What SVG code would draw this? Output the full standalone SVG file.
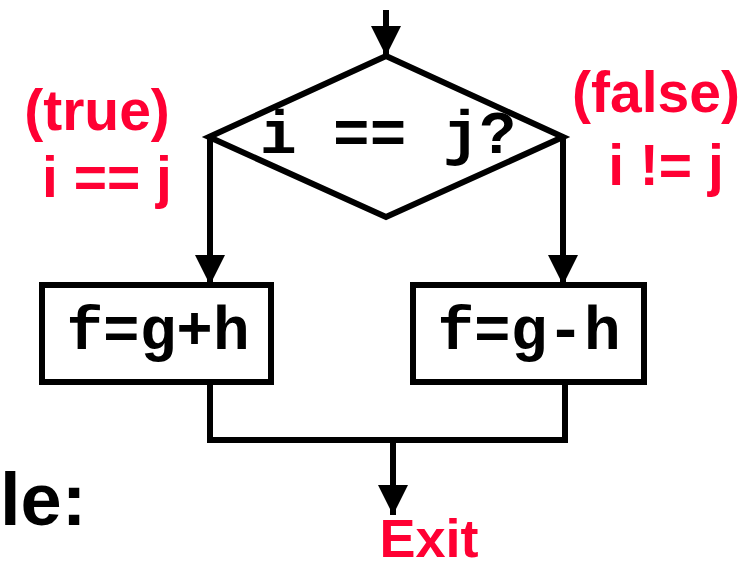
<svg xmlns="http://www.w3.org/2000/svg" width="756" height="570" viewBox="0 0 756 570">
<style>
.ln{stroke:#000;stroke-width:6;fill:none}
.shape{stroke:#000;stroke-width:6;fill:#fff}
.code{font-family:"Liberation Mono","Courier New",monospace;font-weight:bold;fill:#000}
.red{font-family:"Liberation Sans",Arial,sans-serif;font-weight:bold;fill:#FF0033}
</style>
<defs>
<marker id="ah" markerWidth="5" markerHeight="5" refX="5" refY="2.5" orient="auto" markerUnits="strokeWidth">
<path d="M0,0 L5,2.5 L0,5 Z" fill="#000"/>
</marker>
</defs>
<text x="0" y="525" font-family="Liberation Sans,Arial,sans-serif" font-weight="bold" font-size="74">le:</text>
<g id="connectors">
<line class="ln" x1="386" y1="10" x2="386" y2="56" marker-end="url(#ah)"/>
<line class="ln" x1="210" y1="137" x2="210" y2="285" marker-end="url(#ah)"/>
<line class="ln" x1="563" y1="137" x2="563" y2="285" marker-end="url(#ah)"/>
<polyline class="ln" points="210,378 210,440 565,440 565,378"/>
<line class="ln" x1="393" y1="440" x2="393" y2="515" marker-end="url(#ah)"/>
</g>
<g id="decision">
<polygon class="shape" points="386,56 563,137 386,217 209,137"/>
<text class="code" x="388" y="153" font-size="61" text-anchor="middle">i == j?</text>
</g>
<g id="true-label">
<text class="red" x="97" y="130" font-size="57" text-anchor="middle">(true)</text>
<text class="red" x="107" y="197" font-size="57" text-anchor="middle">i == j</text>
</g>
<g id="false-label">
<text class="red" x="656" y="112" font-size="57" text-anchor="middle">(false)</text>
<text class="red" x="666" y="185" font-size="57" text-anchor="middle">i != j</text>
</g>
<g id="box-add">
<rect class="shape" x="42" y="285" width="229" height="97"/>
<text class="code" x="158" y="349" font-size="61" text-anchor="middle">f=g+h</text>
</g>
<g id="box-sub">
<rect class="shape" x="413" y="285" width="231" height="97"/>
<text class="code" x="529" y="349" font-size="61" text-anchor="middle">f=g-h</text>
</g>
<g id="exit">
<text class="red" x="429" y="557" font-size="54" text-anchor="middle">Exit</text>
</g>
</svg>
